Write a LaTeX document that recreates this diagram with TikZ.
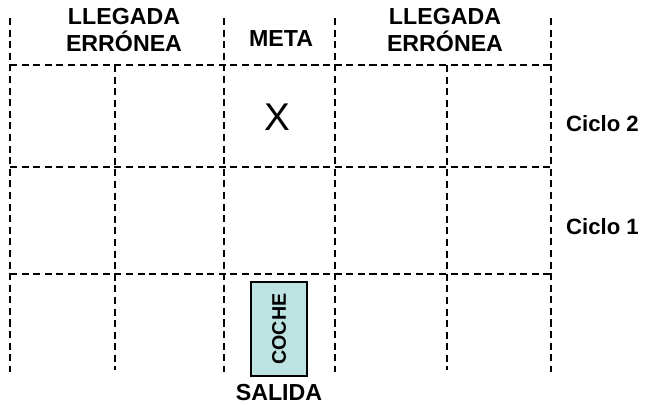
\documentclass[tikz,border=0pt]{standalone}
\usepackage{fontspec}
\setmainfont{Liberation Sans}
\usetikzlibrary{positioning}
\definecolor{carfill}{RGB}{188,226,226}

\begin{document}
\begin{tikzpicture}[
  x=0.02cm, y=-0.02cm,
  grid/.style={dashed, line width=0.85pt, dash pattern=on 4pt off 2.6pt},
  header/.style={font=\fontsize{13.2}{15}\selectfont\bfseries, align=center},
  cycle/.style={font=\fontsize{12.6}{15}\selectfont\bfseries, anchor=west},
  car/.style={draw=black, fill=carfill, line width=0.6pt,
    minimum width=56*0.02cm, minimum height=94*0.02cm, inner sep=0pt}
]
  \useasboundingbox (0,0) rectangle (645,405);

  % grid
  \foreach \x in {10,224,335,551}
    \draw[grid] (\x,18) -- (\x,372);
  \foreach \x in {115,447}
    \draw[grid] (\x,65) -- (\x,370);
  \foreach \y in {65,167,274}
    \draw[grid] (10,\y) -- (551,\y);

  % headers
  \node[header] (wrongleft) at (124,30) {LLEGADA\\ERRÓNEA};
  \node[header] (goal) at (281,39) {META};
  \node[header] (wrongright) at (445,30) {LLEGADA\\ERRÓNEA};
  \node[font=\fontsize{22}{24}\selectfont] (mark) at (277,117) {X};

  \node[cycle] (cycletwo) at (560,124) {Ciclo 2};
  \node[cycle] (cycleone) at (560,227) {Ciclo 1};

  % car
  \node[car] (car) at (279,329) {};
  \node[rotate=90, font=\fontsize{11.2}{13}\selectfont\bfseries] (carname) at (car) {COCHE};
  \node[header, below=0.8pt of car] (start) {SALIDA};
\end{tikzpicture}
\end{document}
